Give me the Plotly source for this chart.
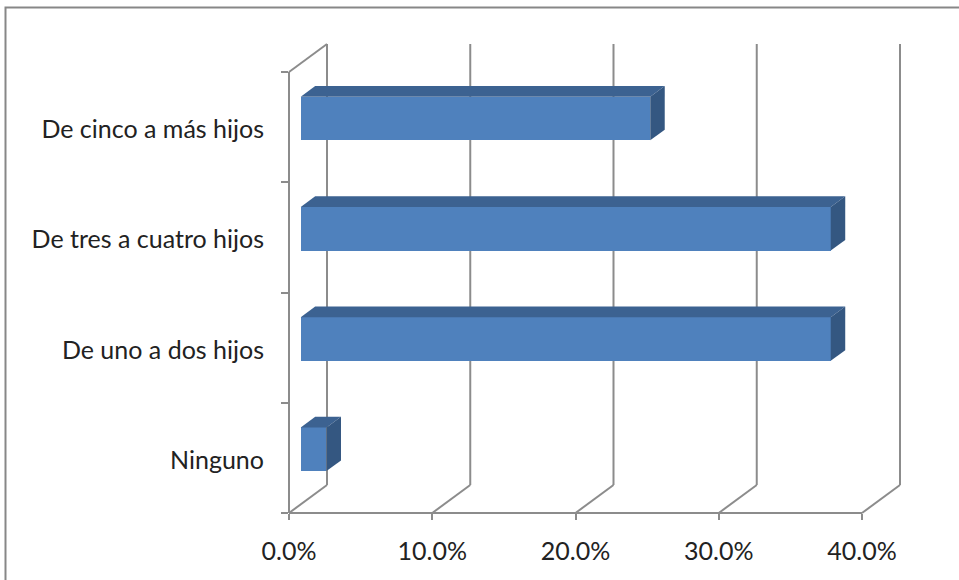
import plotly.graph_objects as go

# Survey answers: number of children
categories = ["Ninguno", "De uno a dos hijos", "De tres a cuatro hijos", "De cinco a más hijos"]
shares = [0.018, 0.370, 0.370, 0.244]
x_ticks = [0.0, 0.1, 0.2, 0.3, 0.4]

W, H = 959, 580

# Pixel layout of the oblique 3D box
X0_PX, PX_PER_X = 289.0, 1432.5      # front plane: 0 % and pixels per unit share
Y0_PX, PX_PER_Y = 513.0, 110.25      # front plane: floor and pixels per category
PLOT_L, PLOT_R, PLOT_T, PLOT_B = 289, 905, 40, 513

x_rng = [(PLOT_L - X0_PX) / PX_PER_X, (PLOT_R - X0_PX) / PX_PER_X]
y_rng = [(Y0_PX - PLOT_B) / PX_PER_Y, (Y0_PX - PLOT_T) / PX_PER_Y]

# depth of the whole box (back wall offset) in data units
BACK_DX, BACK_DY = 38 / PX_PER_X, 28 / PX_PER_Y
# bar placement inside the depth
FRONT_DX, FRONT_DY = 11.7 / PX_PER_X, 8.6 / PX_PER_Y
BAR_DX, BAR_DY = 14.5 / PX_PER_X, 10.6 / PX_PER_Y
BAR_HALF = 21.85 / PX_PER_Y

GRID = "#8c8c8c"
FRONT = "#4f81bd"
TOP = "#3c6291"
SIDE = "#345781"
FONT = "Lato"


def xp(x):
    return (x - x_rng[0]) / (x_rng[1] - x_rng[0])


def yp(y):
    return (y - y_rng[0]) / (y_rng[1] - y_rng[0])


def px_x(p):
    return (p - PLOT_L) / (PLOT_R - PLOT_L)


def px_y(p):
    return (PLOT_B - p) / (PLOT_B - PLOT_T)


fig = go.Figure()

# front faces of the bars
centers = [i + 0.5 + FRONT_DY for i in range(len(categories))]
fig.add_trace(go.Bar(
    y=centers, x=shares, base=FRONT_DX, orientation="h",
    width=2 * BAR_HALF, marker=dict(color=FRONT, line=dict(width=0)),
    hoverinfo="skip", showlegend=False,
))

# top and side faces
for c, v in zip(centers, shares):
    x0, x1 = FRONT_DX, FRONT_DX + v
    yb, yt = c - BAR_HALF, c + BAR_HALF
    fig.add_trace(go.Scatter(
        x=[x0, x1, x1 + BAR_DX, x0 + BAR_DX, x0],
        y=[yt, yt, yt + BAR_DY, yt + BAR_DY, yt],
        fill="toself", fillcolor=TOP, mode="lines", line=dict(width=0),
        hoverinfo="skip", showlegend=False,
    ))
    fig.add_trace(go.Scatter(
        x=[x1, x1, x1 + BAR_DX, x1 + BAR_DX, x1],
        y=[yb, yt, yt + BAR_DY, yb + BAR_DY, yb],
        fill="toself", fillcolor=SIDE, mode="lines", line=dict(width=0),
        hoverinfo="skip", showlegend=False,
    ))

shapes = []


def seg(xa, ya, xb, yb):
    shapes.append(dict(type="line", xref="paper", yref="paper",
                       x0=xp(xa), y0=yp(ya), x1=xp(xb), y1=yp(yb),
                       line=dict(color=GRID, width=2), layer="below"))


n = len(categories)
# back wall verticals and floor diagonals
for g in x_ticks:
    seg(g + BACK_DX, BACK_DY, g + BACK_DX, n + BACK_DY)
    seg(g, 0, g + BACK_DX, BACK_DY)
# side wall: front edge and top diagonal
seg(0, 0, 0, n)
seg(0, n, BACK_DX, n + BACK_DY)
# floor front edge
seg(x_ticks[0], 0, x_ticks[-1], 0)

# outer chart border
shapes.append(dict(type="rect", xref="paper", yref="paper",
                   x0=px_x(5.5), y0=px_y(7.5), x1=px_x(W + 10), y1=px_y(H + 10),
                   line=dict(color="#878787", width=2), layer="above"))

fig.update_layout(
    width=W, height=H,
    margin=dict(l=PLOT_L, r=W - PLOT_R, t=PLOT_T, b=H - PLOT_B),
    paper_bgcolor="white", plot_bgcolor="rgba(0,0,0,0)",
    shapes=shapes, bargap=0,
    font=dict(family=FONT, size=25, color="#222222"),
    xaxis=dict(
        range=x_rng, tickvals=x_ticks, tickformat=".1%",
        showgrid=False, zeroline=False, showline=False,
        ticks="outside", ticklen=6, tickwidth=2, tickcolor=GRID,
        ticklabelstandoff=10, fixedrange=True,
    ),
    yaxis=dict(
        range=y_rng, tickvals=[i + 0.5 - 0.02 for i in range(n)], ticktext=categories,
        showgrid=False, zeroline=False, showline=False, ticks="",
        ticklabelstandoff=24, fixedrange=True,
        minor=dict(tickmode="array", tickvals=list(range(n + 1)), ticks="outside",
                   ticklen=7, tickwidth=2, tickcolor=GRID, showgrid=False),
    ),
)

fig.write_html("out.html")
